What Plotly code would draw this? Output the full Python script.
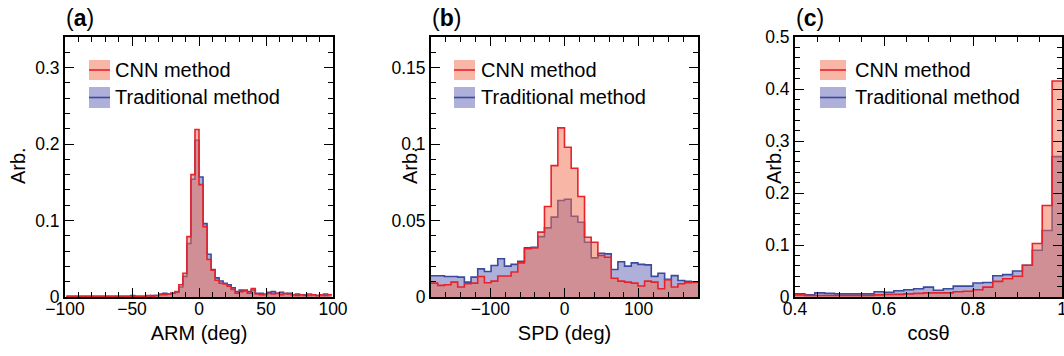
import numpy as np
import plotly.graph_objects as go

# ---------------- data ----------------
# (a) ARM, bins of 3 deg starting at -99
arm_edges = np.arange(-99, 100, 3)
arm_cnn = [0.001, 0.001, 0.001, 0.001, 0.001, 0.001, 0.001, 0.001, 0.001, 0.001, 0.001,
           0.001, 0.001, 0.001, 0.001, 0.001, 0.001, 0.001, 0.001, 0.001, 0.002, 0.001,
           0.002, 0.003, 0.003, 0.004, 0.005, 0.007, 0.016, 0.031, 0.079, 0.160, 0.219,
           0.147, 0.092, 0.049, 0.035, 0.022, 0.018, 0.017, 0.014, 0.010, 0.005, 0.007,
           0.008, 0.005, 0.011, 0.004, 0.003, 0.004, 0.005, 0.004, 0.005, 0.003, 0.005,
           0.004, 0.003, 0.002, 0.003, 0.002, 0.004, 0.003, 0.002, 0.003, 0.002, 0.003]
arm_trad = [0.001, 0.001, 0.001, 0.001, 0.001, 0.001, 0.001, 0.001, 0.001, 0.001, 0.001,
            0.001, 0.001, 0.001, 0.001, 0.001, 0.002, 0.001, 0.001, 0.001, 0.001, 0.002,
            0.002, 0.004, 0.005, 0.004, 0.005, 0.006, 0.013, 0.027, 0.070, 0.154, 0.205,
            0.157, 0.096, 0.056, 0.036, 0.025, 0.021, 0.018, 0.016, 0.012, 0.007, 0.009,
            0.009, 0.007, 0.009, 0.005, 0.005, 0.003, 0.006, 0.007, 0.005, 0.006, 0.004,
            0.005, 0.003, 0.004, 0.003, 0.003, 0.002, 0.003, 0.002, 0.002, 0.004, 0.003]

# (b) SPD, bins of 9 deg from -180 to 180
spd_edges = np.arange(-180, 181, 9)
spd_cnn = [0.0091, 0.0076, 0.0080, 0.0097, 0.0065, 0.0087, 0.0091, 0.0134, 0.0093, 0.0104,
           0.0137, 0.0137, 0.0163, 0.0223, 0.0315, 0.0321, 0.0424, 0.0592, 0.0859, 0.1106,
           0.0979, 0.0842, 0.0657, 0.0391, 0.0358, 0.0271, 0.0260, 0.0123, 0.0104, 0.0097,
           0.0091, 0.0072, 0.0104, 0.0097, 0.0054, 0.0113, 0.0065, 0.0087, 0.0093, 0.0095]
spd_trad = [0.0139, 0.0139, 0.0134, 0.0134, 0.0130, 0.0097, 0.0130, 0.0184, 0.0167, 0.0206,
            0.0250, 0.0202, 0.0213, 0.0234, 0.0321, 0.0325, 0.0395, 0.0452, 0.0522, 0.0631,
            0.0639, 0.0528, 0.0489, 0.0358, 0.0256, 0.0286, 0.0282, 0.0180, 0.0230, 0.0202,
            0.0223, 0.0213, 0.0210, 0.0135, 0.0155, 0.0115, 0.0140, 0.0108, 0.0102, 0.0100]

# (c) cos(theta), bins of 1/45 from 0.4 to 1
cos_edges = np.linspace(0.4, 1.0, 28)
cos_cnn = [0.004, 0.003, 0.003, 0.003, 0.003, 0.003, 0.003, 0.003, 0.004, 0.005,
           0.005, 0.006, 0.007, 0.008, 0.008, 0.008, 0.010, 0.011, 0.014, 0.019,
           0.030, 0.035, 0.040, 0.061, 0.103, 0.176, 0.4155]
cos_trad = [0.006, 0.004, 0.008, 0.007, 0.006, 0.006, 0.006, 0.006, 0.010, 0.009,
            0.012, 0.014, 0.016, 0.019, 0.013, 0.016, 0.021, 0.021, 0.027, 0.028,
            0.041, 0.043, 0.050, 0.061, 0.090, 0.128, 0.270]

series_names = ["CNN method", "Traditional method"]
x_titles = ["ARM (deg)", "SPD (deg)", "cosθ"]
panel_tags = ["a", "b", "c"]

# ---------------- style ----------------
FONT = "Liberation Sans, Arial, Helvetica, sans-serif"
RED_LINE = "#E8222B"
BLUE_LINE = "#3A4B9E"
RED_FILL = "rgba(242,110,80,0.5)"
BLUE_FILL = "rgba(75,80,170,0.45)"

W, H = 1064, 356
ML, MR, MT, MB = 65, 2, 37, 59
PW = W - ML - MR
PH = H - MT - MB


def PX(x):
    return (x - ML) / PW


def PY(y):
    return (H - MB - y) / PH


panels = [
    dict(edges=arm_edges, cnn=arm_cnn, trad=arm_trad, xr=[-100, 100], yr=[0, 0.34],
         xd=50, xm=10, yd=0.1, ym=0.02, px=(65, 333), leg=(89, 21, 113), ytx=18),
    dict(edges=spd_edges, cnn=spd_cnn, trad=spd_trad, xr=[-180, 180], yr=[0, 0.17],
         xd=100, xm=20, yd=0.05, ym=0.01, px=(431, 698), leg=(454, 21, 479), ytx=410),
    dict(edges=cos_edges, cnn=cos_cnn, trad=cos_trad, xr=[0.4, 1.0], yr=[0, 0.5],
         xd=0.2, xm=0.05, yd=0.1, ym=0.02, px=(795, 1062), leg=(820, 26, 853), ytx=774),
]

fig = go.Figure()
shapes = []
annotations = []

for i, p in enumerate(panels):
    n = i + 1
    xa = "x" if n == 1 else f"x{n}"
    ya = "y" if n == 1 else f"y{n}"
    edges = list(p["edges"])
    for vals, lc, fc, name in [(p["trad"], BLUE_LINE, BLUE_FILL, series_names[1]),
                               (p["cnn"], RED_LINE, RED_FILL, series_names[0])]:
        fig.add_trace(go.Scatter(
            x=edges, y=list(vals) + [vals[-1]], mode="lines",
            line=dict(shape="hv", color=lc, width=1.6),
            fill="tozeroy", fillcolor=fc, name=name,
            xaxis=xa, yaxis=ya, showlegend=False, hoverinfo="skip"))

    common = dict(ticks="inside", tickcolor="black", tickwidth=1.3, ticklen=9,
                  showline=True, linewidth=2, linecolor="black", mirror="ticks",
                  showgrid=False, zeroline=False, fixedrange=True, automargin=False,
                  ticklabeloverflow="allow",
                  tickfont=dict(family=FONT, size=17.5, color="black"))
    xkey = "xaxis" if n == 1 else f"xaxis{n}"
    ykey = "yaxis" if n == 1 else f"yaxis{n}"
    fig.layout[xkey] = dict(
        common, domain=[PX(p["px"][0]), PX(p["px"][1])], range=p["xr"],
        tick0=0, dtick=p["xd"], anchor=ya, ticklabelstandoff=-5,
        minor=dict(dtick=p["xm"], ticks="inside", ticklen=5, tickwidth=1, tickcolor="black"),
        title=dict(text=x_titles[i], font=dict(family=FONT, size=20, color="black"), standoff=8))
    fig.layout[ykey] = dict(
        common, domain=[0, 1], range=p["yr"], tick0=0, dtick=p["yd"], anchor=xa,
        minor=dict(dtick=p["ym"], ticks="inside", ticklen=5, tickwidth=1, tickcolor="black"))

    # y title
    annotations.append(dict(text="Arb.", x=PX(p["ytx"]), y=PY(166), xref="paper", yref="paper",
                            textangle=-90, showarrow=False, xanchor="center", yanchor="middle",
                            font=dict(family=FONT, size=20, color="black")))
    # panel tag
    annotations.append(dict(text=f"(<b>{panel_tags[i]}</b>)", x=PX(p["px"][0] - 1), y=PY(18),
                            xref="paper", yref="paper", showarrow=False,
                            xanchor="left", yanchor="middle",
                            font=dict(family=FONT, size=23, color="black")))
    # legend
    bx, bw, tx = p["leg"]
    for (y0, y1, ty), lc, fc, name in [((60, 80, 70), RED_LINE, RED_FILL, series_names[0]),
                                       ((87, 108, 97), BLUE_LINE, BLUE_FILL, series_names[1])]:
        shapes.append(dict(type="rect", xref="paper", yref="paper",
                           x0=PX(bx), x1=PX(bx + bw), y0=PY(y1), y1=PY(y0),
                           fillcolor=fc, line=dict(width=0)))
        shapes.append(dict(type="line", xref="paper", yref="paper",
                           x0=PX(bx), x1=PX(bx + bw), y0=PY((y0 + y1) / 2), y1=PY((y0 + y1) / 2),
                           line=dict(color=lc, width=1.6)))
        annotations.append(dict(text=name, x=PX(tx), y=PY(ty), xref="paper", yref="paper",
                                showarrow=False, xanchor="left", yanchor="middle",
                                font=dict(family=FONT, size=20, color="black")))

fig.update_layout(
    width=W, height=H, margin=dict(l=ML, r=MR, t=MT, b=MB, pad=0),
    autosize=False,
    paper_bgcolor="white", plot_bgcolor="white",
    font=dict(family=FONT, color="black"),
    shapes=shapes, annotations=annotations, showlegend=False)

fig.write_html("out.html", config=dict(displayModeBar=False, responsive=False))
